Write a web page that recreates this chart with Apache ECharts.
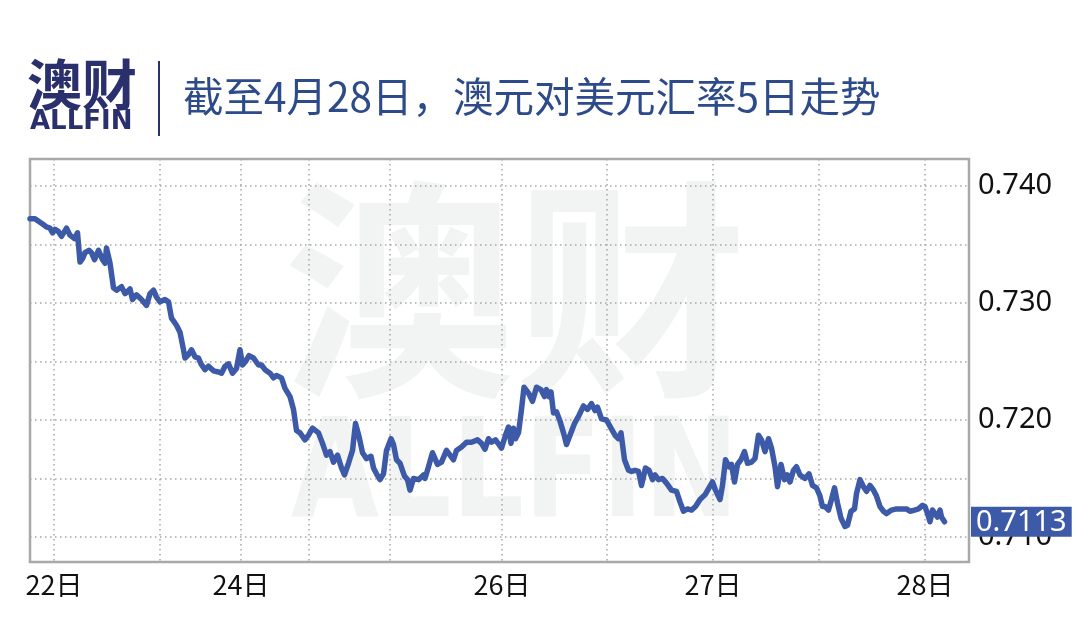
<!DOCTYPE html>
<html>
<head>
<meta charset="utf-8">
<style>html,body{margin:0;padding:0;background:#fff}#c{width:1080px;height:635px}</style>
<script src="https://cdn.jsdelivr.net/npm/echarts@6/dist/echarts.min.js"></script>
</head>
<body>
<div id="c"></div>
<script>
// x position of each quote on the chart's compressed timeline (slot units)
const slots = [
  0,1,2,2.7,3.3,4,4.5,5,5.7,6.3,
  7.3,8,8.9,9.5,10,10.5,11,11.8,12.3,12.9,
  13.7,14.5,15,15.3,16,16.7,17.3,18.3,19,20,
  20.5,21.3,22.3,23.3,24,24.7,25.3,26,27,27.7,
  28.3,29.3,30,30.7,31,31.7,32.3,33,33.7,34.2,
  35,35.7,36.7,37.7,38.3,39,39.7,40.5,41.3,42,
  42.5,43.1,43.8,44.7,45.7,46.3,47,48,48.7,49.3,
  50.3,51,52,52.7,53.3,54,55,55.7,56.5,57.7,
  58.5,59.3,60,60.7,61.5,62.3,62.9,63.7,64.5,65.1,
  65.8,66.5,67.3,68.2,68.7,69.3,70,70.7,71.3,72.2,
  72.7,73.3,74,74.9,75.5,76,76.7,77.7,78.7,79,
  79.7,80.5,81,81.5,82.3,83.3,84,84.7,85.3,86.3,
  87.3,88.3,89.5,90.3,91,91.7,92.3,93.1,93.8,94.3,
  95.1,95.7,96.2,96.7,97.1,97.7,98.3,98.8,99.7,100.5,
  101.3,102.2,102.9,103.3,103.8,104.2,104.7,105.3,106,106.7,
  107.3,108,108.9,109.8,110.7,111.5,112.3,113,113.5,114.3,
  115.3,116.2,117,117.7,118.2,118.9,119.7,120.3,121,121.7,
  122.3,123.1,123.8,124.5,125,125.7,126.5,127.3,128.3,129.3,
  130,130.7,131.5,132.3,133.1,134,135,135.8,136.5,137.1,
  138,138.5,139.1,139.8,140.3,140.9,141.5,142.2,142.9,143.5,
  144.3,145,145.7,146.3,147,147.7,148.3,149,149.5,150.2,
  150.9,151.5,152,152.7,153.3,154,155,155.8,156.5,157.3,
  158,158.5,159,159.7,160.3,160.9,161.5,162.2,163,163.5,
  164.2,164.9,165.3,166,166.7,167.3,168,168.7,169.3,170,
  170.7,171.3,172.3,173.3,174.3,175.3,176,176.9,177.7,178.5,
  179,179.5,180,180.5,181,181.5,182,182.3,182.9
];
// AUD/USD rate at each slot
const rates = [
  0.7372,0.7372,0.7369,0.7367,0.7365,0.7364,0.7360,0.7363,0.7361,0.7357,
  0.7364,0.7358,0.7355,0.7360,0.7335,0.7338,0.7343,0.7345,0.7343,0.7337,
  0.7345,0.7337,0.7334,0.7347,0.7334,0.7313,0.7311,0.7314,0.7308,0.7312,
  0.7303,0.7307,0.7303,0.7298,0.7308,0.7311,0.7305,0.7301,0.7303,0.7301,
  0.7287,0.7281,0.7275,0.7260,0.7253,0.7256,0.7260,0.7254,0.7253,0.7248,
  0.7243,0.7246,0.7242,0.7241,0.7240,0.7246,0.7248,0.7240,0.7244,0.7260,
  0.7247,0.7250,0.7255,0.7253,0.7247,0.7247,0.7243,0.7240,0.7236,0.7238,
  0.7236,0.7227,0.7220,0.7209,0.7191,0.7189,0.7183,0.7187,0.7193,0.7189,
  0.7180,0.7170,0.7173,0.7164,0.7170,0.7159,0.7153,0.7163,0.7174,0.7197,
  0.7186,0.7172,0.7167,0.7169,0.7159,0.7154,0.7149,0.7154,0.7174,0.7184,
  0.7179,0.7166,0.7163,0.7152,0.7149,0.7140,0.7150,0.7149,0.7153,0.7150,
  0.7160,0.7172,0.7167,0.7162,0.7164,0.7174,0.7170,0.7166,0.7174,0.7177,
  0.7181,0.7181,0.7183,0.7180,0.7175,0.7184,0.7181,0.7183,0.7179,0.7176,
  0.7187,0.7194,0.7180,0.7193,0.7184,0.7189,0.7209,0.7228,0.7223,0.7216,
  0.7228,0.7226,0.7220,0.7226,0.7220,0.7224,0.7206,0.7207,0.7199,0.7189,
  0.7179,0.7187,0.7197,0.7204,0.7212,0.7209,0.7214,0.7208,0.7211,0.7201,
  0.7200,0.7193,0.7187,0.7184,0.7189,0.7166,0.7157,0.7156,0.7157,0.7156,
  0.7144,0.7159,0.7157,0.7149,0.7153,0.7149,0.7150,0.7146,0.7140,0.7139,
  0.7130,0.7122,0.7124,0.7123,0.7126,0.7132,0.7136,0.7142,0.7147,0.7140,
  0.7132,0.7144,0.7166,0.7160,0.7162,0.7147,0.7162,0.7166,0.7173,0.7163,
  0.7164,0.7167,0.7187,0.7183,0.7173,0.7184,0.7176,0.7160,0.7143,0.7162,
  0.7149,0.7153,0.7147,0.7157,0.7160,0.7153,0.7150,0.7154,0.7144,0.7142,
  0.7135,0.7126,0.7126,0.7123,0.7132,0.7142,0.7129,0.7116,0.7109,0.7110,
  0.7122,0.7124,0.7137,0.7149,0.7143,0.7139,0.7144,0.7140,0.7135,0.7126,
  0.7122,0.7120,0.7123,0.7124,0.7124,0.7124,0.7122,0.7123,0.7124,0.7127,
  0.7126,0.7120,0.7113,0.7123,0.7120,0.7117,0.7123,0.7117,0.7113
];
// x-axis: grid (half-day) positions and day labels
const xGridSlots = [4.8, 26, 42.2, 55.8, 72, 94.4, 115.4, 136.6, 157.8, 179];
const xLabelSlots = [4.8, 42.2, 94.4, 136.6, 179];
const xLabelTexts = ['22日', '24日', '26日', '27日', '28日'];
// y-axis
const yGridValues = [0.710, 0.715, 0.720, 0.725, 0.730, 0.735, 0.740];
const yLabelValues = [0.710, 0.720, 0.730, 0.740];
const lastRate = 0.7113;

const titleText = '截至4月28日，澳元对美元汇率5日走势';

const n = Math.min(slots.length, rates.length);
const seriesData = [];
for (let i = 0; i < n; i++) seriesData.push([slots[i], rates[i]]);

const chart = echarts.init(document.getElementById('c'), null, {renderer: 'canvas'});
const navy = '#2a2f6e';
const lineBlue = '#3d5aa8';
const gridGray = '#a6a6a6';
const wm = '#f2f3f3';
const yMin = 0.70786, yMax = 0.74231;

chart.setOption({
  animation: false,
  backgroundColor: '#ffffff',
  grid: {
    left: 30, right: 111, top: 159, bottom: 73,
    show: true, borderColor: '#a9a9a9', borderWidth: 2.5, backgroundColor: 'transparent'
  },
  xAxis: {
    type: 'value', min: 0, max: 187.8,
    axisLine: {show: false},
    axisTick: {show: false, customValues: xGridSlots},
    splitLine: {show: true, lineStyle: {color: gridGray, width: 1.5, type: [1.5, 3.5]}},
    axisLabel: {
      customValues: xLabelSlots,
      margin: 9,
      color: '#111',
      fontSize: 27,
      fontFamily: '"Noto Sans CJK SC", "Noto Sans", sans-serif',
      formatter: function (v) {
        for (let i = 0; i < xLabelSlots.length; i++) {
          if (Math.abs(xLabelSlots[i] - v) < 1e-6) return xLabelTexts[i];
        }
        return '';
      }
    }
  },
  yAxis: [{
    type: 'value', position: 'right',
    min: yMin, max: yMax,
    axisLine: {show: false},
    axisTick: {show: false, customValues: yGridValues},
    splitLine: {show: true, lineStyle: {color: gridGray, width: 1.5, type: [1.5, 3.5]}},
    axisLabel: {
      customValues: yLabelValues,
      margin: 9,
      hideOverlap: false,
      color: '#111', fontSize: 29, fontFamily: '"Noto Sans", sans-serif',
      padding: [4, 0, 0, 0],
      formatter: function (v) { return v.toFixed(3); }
    }
  }, {
    type: 'value', position: 'right',
    min: yMin, max: yMax,
    axisLine: {show: false},
    axisTick: {show: false},
    splitLine: {show: false},
    axisLabel: {
      customValues: [lastRate],
      margin: 2,
      hideOverlap: false,
      formatter: function (v) { return '{hl|' + v.toFixed(4) + '}'; },
      rich: {
        hl: {color: '#fff', fontSize: 29, fontFamily: '"Noto Sans", sans-serif',
             backgroundColor: lineBlue, padding: [1, 5, 0, 5], lineHeight: 29}
      }
    }
  }],
  graphic: [
    {type: 'text', z: -10, x: 515, y: 290, style: {
      text: '澳财', fill: wm, font: 'bold 232px "Noto Sans CJK SC"',
      textAlign: 'center', textVerticalAlign: 'middle'}},
    {type: 'text', z: -10, x: 515, y: 480, scaleX: 0.83, style: {
      text: 'ALLFIN', fill: wm, font: 'bold 137px "DejaVu Sans"',
      textAlign: 'center', textVerticalAlign: 'middle'}},
    {type: 'text', x: 27, y: 84, style: {
      text: '澳财', fill: navy, font: 'bold 55px "Noto Sans CJK SC"',
      textAlign: 'left', textVerticalAlign: 'middle'}},
    {type: 'text', x: 30, y: 122, style: {
      text: 'ALLFIN', fill: navy, font: 'bold 26px "DejaVu Sans"',
      textAlign: 'left', textVerticalAlign: 'middle'}},
    {type: 'line', shape: {x1: 159, y1: 61, x2: 159, y2: 136},
      style: {stroke: navy, lineWidth: 2}},
    {type: 'text', x: 183, y: 97, style: {
      text: titleText, fill: '#2d4a8a', font: '40.5px "Noto Sans CJK SC"',
      textAlign: 'left', textVerticalAlign: 'middle'}}
  ],
  series: [{
    type: 'line',
    yAxisIndex: 0,
    data: seriesData,
    showSymbol: false,
    symbol: 'none',
    smooth: false,
    lineStyle: {color: lineBlue, width: 5.5, cap: 'round', join: 'round'},
    z: 5
  }]
});
</script>
</body>
</html>
